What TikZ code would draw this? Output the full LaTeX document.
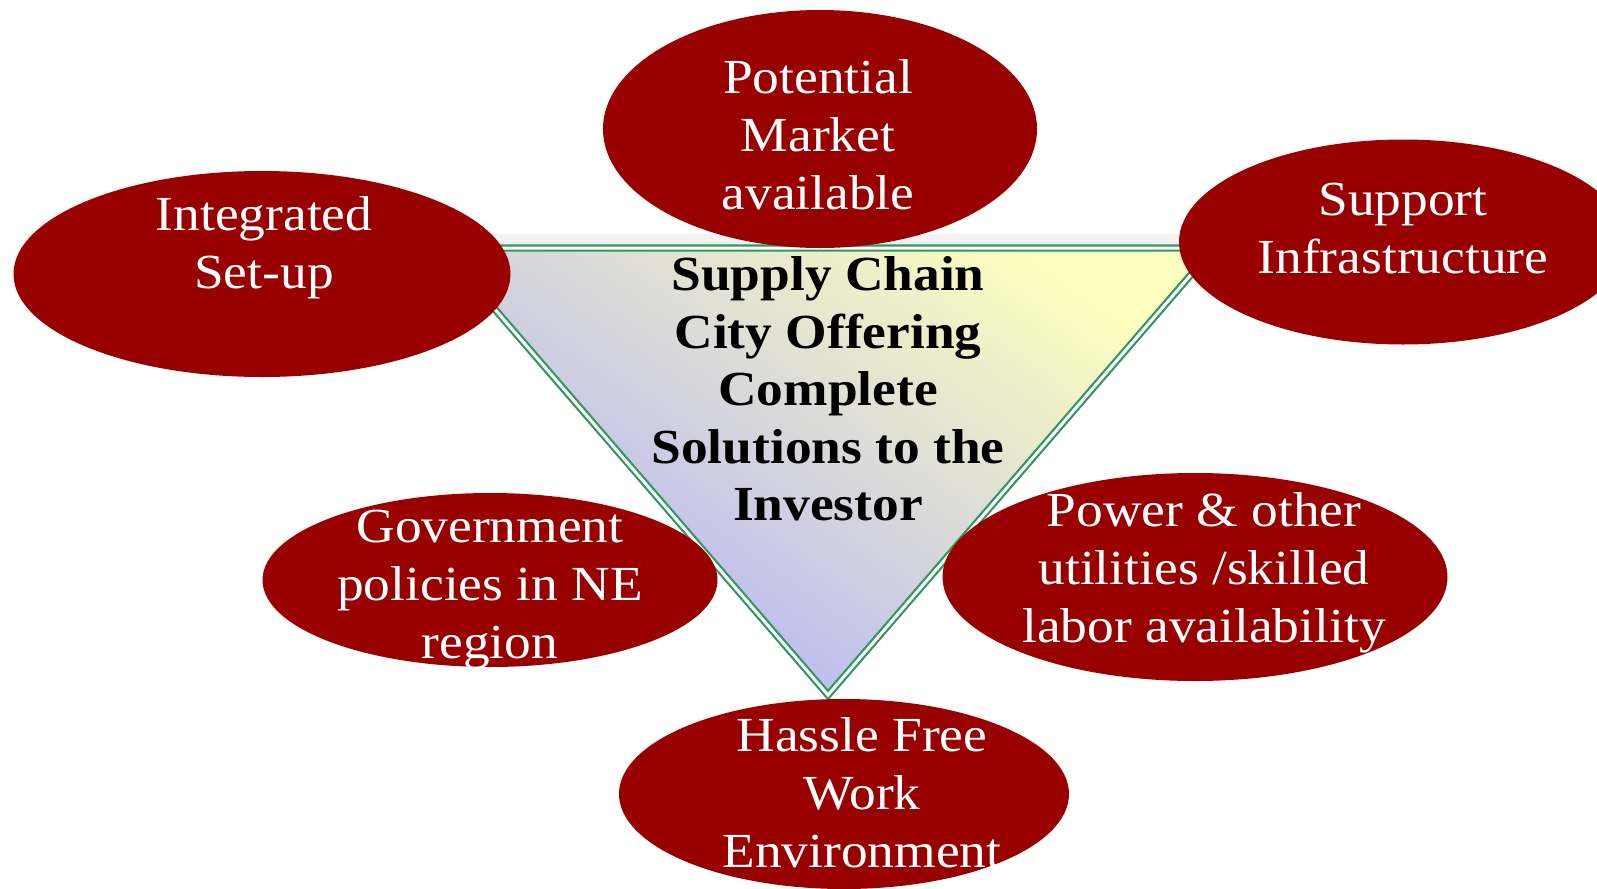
\documentclass[tikz,border=0pt]{standalone}
\usepackage{fontspec}
\setmainfont{Liberation Serif}[FakeStretch=1.09]
\usetikzlibrary{shapes.geometric}

\definecolor{ovalred}{RGB}{153,0,0}
\definecolor{edgegreen}{RGB}{50,150,95}
\definecolor{shadeyellow}{RGB}{253,253,190}
\definecolor{shadeblue}{RGB}{176,176,250}

\begin{document}
\begin{tikzpicture}[x=0.5pt,y=-0.5pt,
  oval/.style={ellipse, fill=ovalred, draw=none, inner sep=0pt},
  ovaltext/.style={text=white, align=center, inner sep=0pt,
    font=\fontsize{24.5}{29}\selectfont},
  hubtext/.style={text=black, align=center, inner sep=0pt,
    font=\fontsize{24.5}{28.7}\selectfont\bfseries}]
\useasboundingbox (0,0) rectangle (1597,889);
\clip (0,0) rectangle (1597,889);

% central inverted triangle
\coordinate (tl) at (442,248);
\coordinate (tr) at (1214,248);
\coordinate (ap) at (828,695);
\fill[black!5] (442,234) rectangle (1214,246);
\shade[shading=axis, top color=shadeyellow, bottom color=shadeblue,
  shading angle=-35] (tl) -- (tr) -- (ap) -- cycle;
\draw[edgegreen, line width=1.1pt, double=white, double distance=1.5pt,
  line join=miter] (tl) -- (tr) -- (ap) -- cycle;

% surrounding ovals
\node[oval, minimum width=217pt, minimum height=119pt] (market) at (820,129) {};
\node[oval, minimum width=248.5pt, minimum height=103pt] (setup) at (262,274) {};
\node[oval, minimum width=224pt, minimum height=102.5pt] (infra) at (1403,242) {};
\node[oval, minimum width=227.5pt, minimum height=87pt] (govt) at (490,580) {};
\node[oval, minimum width=252.5pt, minimum height=104pt] (power) at (1195,577) {};
\node[oval, minimum width=225pt, minimum height=95pt] (hassle) at (844,794) {};

% labels
\node[ovaltext] (marketlbl) at (818,135) {Potential\\Market\\available};
\node[ovaltext] (setuplbl) at (264,248) {Integrated\\Set-up};
\node[ovaltext] (infralbl) at (1403,229) {Support\\Infrastructure};
\node[ovaltext] (govtlbl) at (490,590) {Government\\policies in NE\\region};
\node[ovaltext] (powerlbl) at (1204,573) {Power \& other\\utilities /skilled\\labor availability};
\node[ovaltext] (hasslelbl) at (862,793) {Hassle Free\\Work\\Environment};
\node[hubtext] (hub) at (828,389) {Supply Chain\\City Offering\\Complete\\Solutions to the\\Investor};
\end{tikzpicture}
\end{document}
